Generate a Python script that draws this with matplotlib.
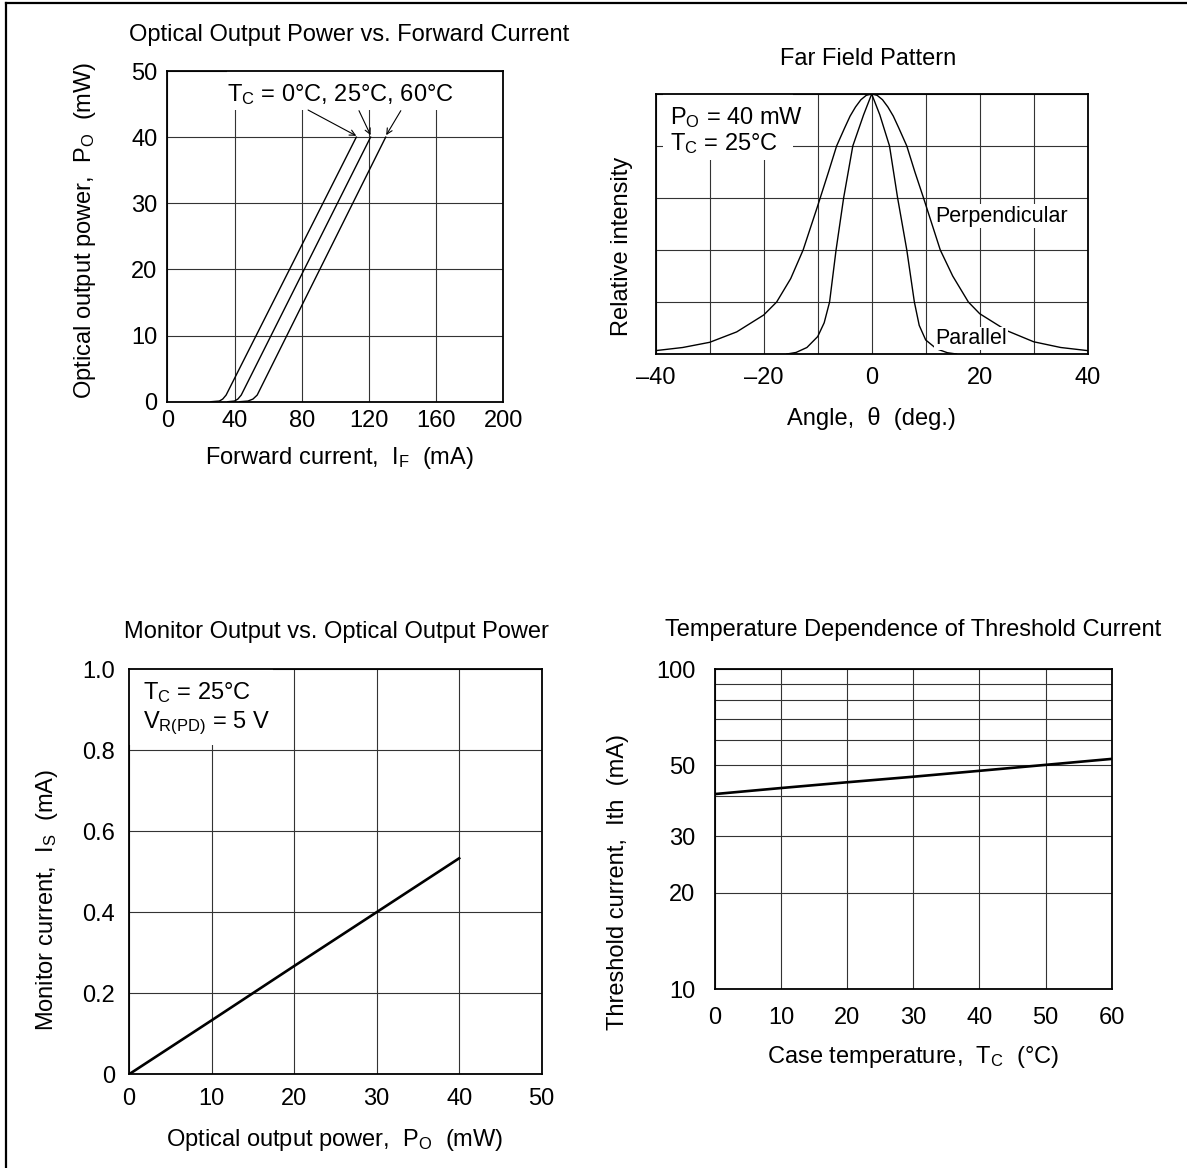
import matplotlib
matplotlib.use("Agg")
import matplotlib.pyplot as plt
from matplotlib.patches import Rectangle
from matplotlib.lines import Line2D
from matplotlib.ticker import NullFormatter

plt.rcParams['font.family'] = ['Liberation Sans', 'DejaVu Sans']
plt.rcParams['mathtext.fontset'] = 'custom'
plt.rcParams['mathtext.rm'] = 'Liberation Sans'
plt.rcParams['mathtext.it'] = 'Liberation Sans'
plt.rcParams['mathtext.default'] = 'regular'

W, H = 1187, 1168
FS = 17

# --- optical output power vs forward current (mA -> mW)
if_0c = [26, 31, 33, 35, 112.5]
po_0c = [0, 0.1, 0.4, 1.0, 40]
if_25c = [36, 40, 42, 44, 121]
po_25c = [0, 0.1, 0.4, 1.0, 40]
if_60c = [43, 48, 51, 53.5, 130]
po_60c = [0, 0.1, 0.4, 1.0, 40]

# --- far field pattern (deg -> relative intensity)
ang_perp = [-40, -35, -30, -25, -20, -17.6, -15, -12.7, -10, -8, -6.5, -5, -4, -3, -2, -1, 0,
            1, 2, 3, 4, 5, 6.5, 8, 9.6, 12.7, 15, 17.9, 20, 25, 30, 35, 40]
int_perp = [0.013, 0.025, 0.045, 0.085, 0.15, 0.2, 0.29, 0.4, 0.57, 0.7, 0.8, 0.87, 0.915,
            0.95, 0.978, 0.995, 1.0,
            0.995, 0.978, 0.95, 0.915, 0.87, 0.8, 0.7, 0.6, 0.4, 0.3, 0.2, 0.155, 0.09,
            0.047, 0.025, 0.013]
ang_par = [-15.7, -14, -12, -10, -8.8, -7.8, -6.6, -5.2, -3.5, -1.5, 0,
           1.5, 3.3, 4.8, 6.5, 7.9, 8.8, 10, 12, 14, 15.7]
int_par = [0, 0.006, 0.025, 0.067, 0.12, 0.2, 0.4, 0.6, 0.8, 0.92, 1.0,
           0.92, 0.8, 0.6, 0.4, 0.2, 0.11, 0.054, 0.02, 0.005, 0]

# --- monitor current vs optical output power
po_mon = [0, 10, 20, 30, 40]
is_mon = [0, 0.133, 0.267, 0.4, 0.533]

# --- threshold current vs case temperature
tc = [0, 10, 20, 30, 40, 50, 60]
ith = [40.7, 42.5, 44.3, 46.1, 48.1, 50.2, 52.4]


def px_axes(fig, l, t, r, b):
    return fig.add_axes([l / W, 1 - b / H, (r - l) / W, (b - t) / H])


def fig_text(fig, x, y, s, **kw):
    fig.text(x / W, 1 - y / H, s, ha='center', va='center', fontsize=FS, **kw)


def style_axes(ax, xpad, ypad):
    for sp in ax.spines.values():
        sp.set_linewidth(1.3)
    ax.tick_params(which='both', length=0, labelsize=FS)
    ax.tick_params(axis='x', pad=xpad)
    ax.tick_params(axis='y', pad=ypad)
    ax.grid(True, which='both', color='#333333', lw=0.8)
    ax.set_axisbelow(True)


def white_box(ax, x0, y0, x1, y1):
    ax.add_patch(Rectangle((x0, y0), x1 - x0, y1 - y0, transform=ax.transAxes,
                           fc='white', ec='none', zorder=1))


fig = plt.figure(figsize=(W / 100, H / 100), dpi=100)

# ---------------- panel 1
ax1 = px_axes(fig, 167.3, 71, 503.3, 401.7)
style_axes(ax1, 6, 7)
for x, y in [(if_0c, po_0c), (if_25c, po_25c), (if_60c, po_60c)]:
    ax1.plot(x, y, color='black', lw=1.0, zorder=2)
ax1.set_xlim(0, 200)
ax1.set_ylim(0, 50)
ax1.set_xticks([0, 40, 80, 120, 160, 200])
ax1.set_yticks([0, 10, 20, 30, 40, 50])
white_box(ax1, 0.178, 0.882, 0.871, 1.0)
ax1.text(102.8, 46.4, r'T$_C$ = 0°C, 25°C, 60°C', ha='center', va='center',
         fontsize=FS, zorder=3)
arrow = dict(arrowstyle='->', lw=0.8, color='black', shrinkA=0, shrinkB=0,
             mutation_scale=10)
ax1.annotate('', xy=(112.5, 40.2), xytext=(83.8, 44.1), arrowprops=arrow, zorder=3)
ax1.annotate('', xy=(121, 40.3), xytext=(114.1, 44.0), arrowprops=arrow, zorder=3)
ax1.annotate('', xy=(130.3, 40.3), xytext=(139, 44.0), arrowprops=arrow, zorder=3)
fig_text(fig, 349, 35, 'Optical Output Power vs. Forward Current')
fig_text(fig, 339, 458, r'Forward current,  I$_F$  (mA)')
fig_text(fig, 85, 230, r'Optical output power,  P$_O$  (mW)', rotation=90)

# ---------------- panel 2
ax2 = px_axes(fig, 655.7, 94, 1087.7, 354)
style_axes(ax2, 9, 5)
ax2.plot(ang_perp, int_perp, color='black', lw=1.0, zorder=2)
ax2.plot(ang_par, int_par, color='black', lw=1.0, zorder=2)
ax2.set_xlim(-40, 40)
ax2.set_ylim(0, 1)
ax2.set_xticks(range(-40, 41, 10))
ax2.set_xticklabels(['–40', '', '–20', '', '0', '', '20', '', '40'])
ax2.set_yticks([0, 0.2, 0.4, 0.6, 0.8, 1.0])
ax2.set_yticklabels([])
white_box(ax2, 0.017, 0.746, 0.318, 1.0)
ax2.text(-37.4, 0.91, r'P$_O$ = 40 mW', ha='left', va='center', fontsize=FS, zorder=3)
ax2.text(-37.4, 0.81, r'T$_C$ = 25°C', ha='left', va='center', fontsize=FS, zorder=3)
ax2.text(11.7, 0.53, 'Perpendicular', ha='left', va='center', fontsize=15.5, zorder=3,
         bbox=dict(fc='white', ec='none', pad=1))
ax2.text(11.7, 0.06, 'Parallel', ha='left', va='center', fontsize=15.5, zorder=3,
         bbox=dict(fc='white', ec='none', pad=1))
fig_text(fig, 868, 59, 'Far Field Pattern')
fig_text(fig, 871, 418, 'Angle,  θ  (deg.)')
fig_text(fig, 622, 246, 'Relative intensity', rotation=90)

# ---------------- panel 3
ax3 = px_axes(fig, 129, 669, 541.7, 1074.3)
style_axes(ax3, 10, 10)
ax3.plot(po_mon, is_mon, color='black', lw=1.9, zorder=2)
ax3.set_xlim(0, 50)
ax3.set_ylim(0, 1.0)
ax3.set_xticks([0, 10, 20, 30, 40, 50])
ax3.set_yticks([0, 0.2, 0.4, 0.6, 0.8, 1.0])
ax3.set_yticklabels(['0', '0.2', '0.4', '0.6', '0.8', '1.0'])
white_box(ax3, 0.0, 0.8125, 0.349, 1.0)
ax3.text(1.66, 0.941, r'T$_C$ = 25°C', ha='left', va='center', fontsize=FS, zorder=3)
ax3.text(1.66, 0.867, r'V$_{R(PD)}$ = 5 V', ha='left', va='center', fontsize=FS, zorder=3)
fig_text(fig, 336, 632, 'Monitor Output vs. Optical Output Power')
fig_text(fig, 335, 1140, r'Optical output power,  P$_O$  (mW)')
fig_text(fig, 47, 900, r'Monitor current,  I$_S$  (mA)', rotation=90)

# ---------------- panel 4
ax4 = px_axes(fig, 715, 669, 1111.7, 989.3)
ax4.set_yscale('log')
style_axes(ax4, 13, 14)
ax4.plot(tc, ith, color='black', lw=1.9, zorder=2)
ax4.set_xlim(0, 60)
ax4.set_ylim(10, 100)
ax4.set_xticks([0, 10, 20, 30, 40, 50, 60])
ax4.set_yticks([10, 20, 30, 50, 100])
ax4.set_yticklabels(['10', '20', '30', '50', '100'])
ax4.set_yticks([40, 60, 70, 80, 90], minor=True)
ax4.yaxis.set_minor_formatter(NullFormatter())
fig_text(fig, 913, 630, 'Temperature Dependence of Threshold Current')
fig_text(fig, 913, 1057, r'Case temperature,  T$_C$  (°C)')
fig_text(fig, 618, 882, 'Threshold current,  Ith  (mA)', rotation=90)

# page border (top and left edges)
fig.add_artist(Line2D([6 / W, 1], [1 - 3 / H, 1 - 3 / H], transform=fig.transFigure,
                      color='black', lw=1.6))
fig.add_artist(Line2D([6 / W, 6 / W], [0, 1 - 3 / H], transform=fig.transFigure,
                      color='black', lw=1.6))

fig.savefig('out.png', dpi=100)
